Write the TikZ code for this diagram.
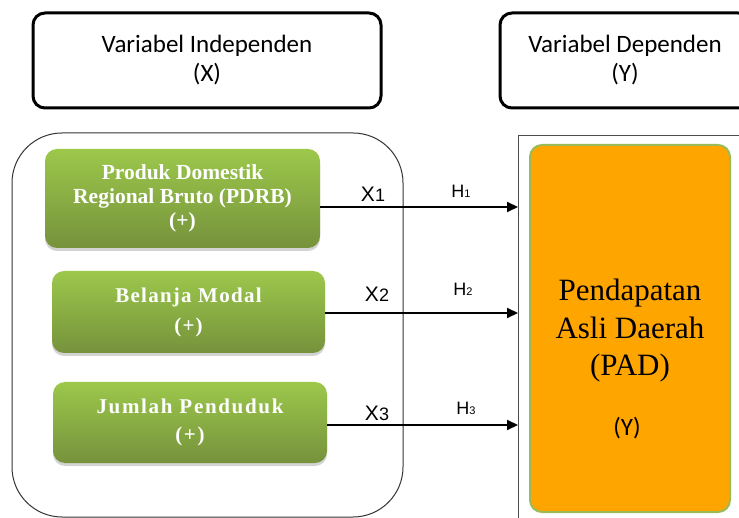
\documentclass[tikz,border=0pt]{standalone}
\usepackage{fontspec}
\setmainfont{Liberation Serif}
\newfontfamily\calib{Carlito}
\newfontfamily\arial{Liberation Sans}
\usetikzlibrary{arrows.meta,shadows}
\definecolor{hijau}{HTML}{9BBB59}
\definecolor{hijaua}{HTML}{9CC84B}
\definecolor{hijaub}{HTML}{76923C}
\definecolor{oranye}{HTML}{FFA500}

\begin{document}
\begin{tikzpicture}[x=1pt,y=-1pt,
  judul/.style={draw,line width=3pt,rounded corners=12pt,align=center,
    font=\calib\fontsize{25}{29}\selectfont},
  hijaubox/.style={rounded corners=12pt,top color=hijaua,bottom color=hijaub,
    text=white,align=center,
    drop shadow={shadow xshift=0pt,shadow yshift=-3pt,opacity=0.35}},
  panah/.style={line width=2pt,-{Triangle[length=11pt,width=10pt]}},
  xlbl/.style={font=\arial\fontsize{21}{21}\selectfont},
  hlbl/.style={font=\arial\fontsize{18}{18}\selectfont}]
%\draw [help lines] (0,0) grid [step=50] (739,518);
\useasboundingbox (0,0) rectangle (739,518);
\clip (0,0) rectangle (739,518);

% judul atas
\node [judul,minimum width=348pt,minimum height=95pt] (indep) at (207,60.5) {Variabel Independen\\(X)};
\node [judul,minimum width=250pt,minimum height=95pt] (dep) at (625,60.5) {Variabel Dependen\\(Y)};

% kelompok variabel X
\node [draw=black!80,line width=1pt,rounded corners=50pt,minimum width=391pt,minimum height=384pt] (kelompok) at (207.5,325) {};

% variabel Y
\node [draw=black!70,line width=1.2pt,anchor=north west,minimum width=250pt,minimum height=430pt] (bingkai) at (518,135) {};
\node [fill=oranye,draw=hijau,line width=2pt,rounded corners=12pt,minimum width=200pt,minimum height=367pt] (pad) at (630,328.5) {};
\node [align=center,font=\fontsize{31}{37.5}\selectfont] (padteks) at (630,331) {Pendapatan\\Asli Daerah\\(PAD)};
\node [font=\calib\fontsize{25}{25}\selectfont] (ypad) at (627,428) {(Y)};

% variabel X
\node [hijaubox,minimum width=275pt,minimum height=99pt,font=\bfseries\fontsize{21.5}{24}\selectfont] (pdrb) at (182.5,198.5) {Produk Domestik\\Regional Bruto (PDRB)\\(+)};
\node [hijaubox,minimum width=273pt,minimum height=82pt,font=\bfseries\fontsize{21}{30}\selectfont\addfontfeature{LetterSpace=6}] (modal) at (188.5,312) {Belanja Modal\\(+)};
\node [hijaubox,minimum width=274pt,minimum height=81pt,font=\bfseries\fontsize{21}{28}\selectfont\addfontfeature{LetterSpace=8}] (jumlah) at (190,422.5) {Jumlah Penduduk\\(+)};

% panah
\coordinate (a1) at ([yshift=-8.5pt]pdrb.east);
\coordinate (a2) at ([yshift=-1pt]modal.east);
\coordinate (a3) at ([yshift=-2.5pt]jumlah.east);
\draw [panah] (a1) -- (a1 -| bingkai.west);
\draw [panah] (a2) -- (a2 -| bingkai.west);
\draw [panah] (a3) -- (a3 -| bingkai.west);

\node [xlbl] (x1) at (373,194) {X{\fontsize{18}{18}\selectfont 1}};
\node [xlbl] (x2) at (377,294) {X{\fontsize{18}{18}\selectfont 2}};
\node [xlbl] (x3) at (377,413) {X{\fontsize{18}{18}\selectfont 3}};
\node [hlbl] (h1) at (461,191) {H{\fontsize{11}{11}\selectfont 1}};
\node [hlbl] (h2) at (463,289) {H{\fontsize{11}{11}\selectfont 2}};
\node [hlbl] (h3) at (466,408) {H{\fontsize{11}{11}\selectfont 3}};
\end{tikzpicture}
\end{document}
